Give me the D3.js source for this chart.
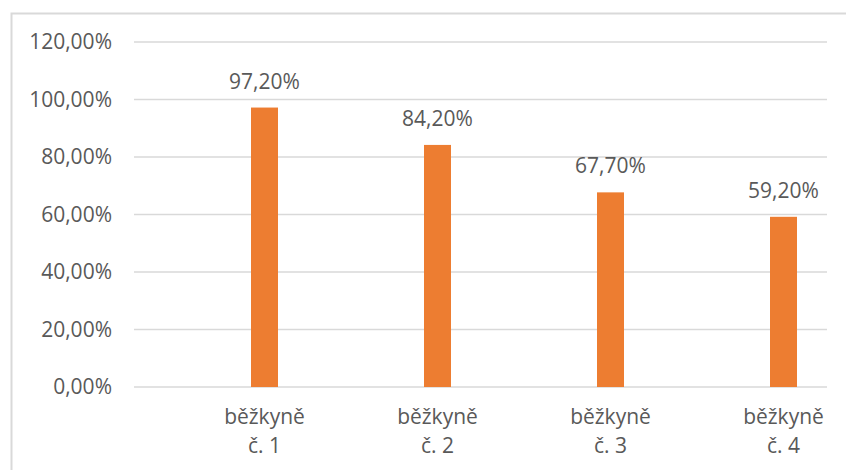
<!DOCTYPE html>
<html>
<head>
<meta charset="utf-8">
<script src="https://cdn.jsdelivr.net/npm/d3@7"></script>
<style>
  body { margin: 0; background: #fff; }
  svg { display: block; font-family: "Open Sans", sans-serif; }
</style>
</head>
<body>
<svg id="chart"></svg>
<script>
const categories = ['běžkyně č. 1', 'běžkyně č. 2', 'běžkyně č. 3', 'běžkyně č. 4'];
const values = [0.972, 0.842, 0.677, 0.592];
const yTicks = [0, 0.2, 0.4, 0.6, 0.8, 1.0, 1.2];

const width = 846;
const height = 470;
const textColor = '#595959';
const gridColor = '#d9d9d9';
const barColor = '#ED7D31';

const svg = d3.select('#chart').attr('width', width).attr('height', height);

// chart frame (cropped on the right and bottom)
svg.append('path')
  .attr('d', `M11.5,${height} V13.5 H${width}`)
  .attr('fill', 'none')
  .attr('stroke', gridColor)
  .attr('stroke-width', 2);

const yScale = d3.scaleLinear().domain([0, 1.2]).range([387, 42]);
const xScale = d3.scaleBand().domain(categories).range([178, 870]);

const fmt = (v) => (v * 100).toFixed(2).replace('.', ',') + '%';

// gridlines
svg.append('g')
  .selectAll('line')
  .data(yTicks)
  .join('line')
  .attr('x1', 134)
  .attr('x2', 827)
  .attr('y1', (d) => yScale(d))
  .attr('y2', (d) => yScale(d))
  .attr('stroke', gridColor)
  .attr('stroke-width', 1.5);

// y axis labels
const yAxis = svg.append('g')
  .attr('transform', 'translate(120,0)')
  .call(d3.axisLeft(yScale).tickValues(yTicks).tickFormat(fmt).tickSize(0).tickPadding(8));
yAxis.select('.domain').remove();
yAxis.selectAll('text')
  .attr('fill', textColor)
  .style('font-size', '21px')
  .style('font-family', '"Open Sans", sans-serif');

// bars
const barW = 27;
svg.append('g')
  .selectAll('rect')
  .data(values)
  .join('rect')
  .attr('x', (d, i) => xScale(categories[i]) + xScale.bandwidth() / 2 - barW / 2)
  .attr('y', (d) => yScale(d))
  .attr('width', barW)
  .attr('height', (d) => yScale(0) - yScale(d))
  .attr('fill', barColor);

// data labels
svg.append('g')
  .selectAll('text')
  .data(values)
  .join('text')
  .attr('x', (d, i) => xScale(categories[i]) + xScale.bandwidth() / 2)
  .attr('y', (d) => yScale(d) - 19)
  .attr('text-anchor', 'middle')
  .attr('fill', textColor)
  .style('font-size', '21px')
  .text(fmt);

// category labels (two lines)
const catG = svg.append('g')
  .selectAll('text')
  .data(categories)
  .join('text')
  .attr('x', (d) => xScale(d) + xScale.bandwidth() / 2)
  .attr('y', 424)
  .attr('text-anchor', 'middle')
  .attr('fill', textColor)
  .style('font-size', '21px');

catG.append('tspan')
  .attr('x', (d) => xScale(d) + xScale.bandwidth() / 2)
  .text((d) => d.split(' ')[0]);
catG.append('tspan')
  .attr('x', (d) => xScale(d) + xScale.bandwidth() / 2)
  .attr('dy', 29)
  .text((d) => d.split(' ').slice(1).join(' '));
</script>
</body>
</html>
